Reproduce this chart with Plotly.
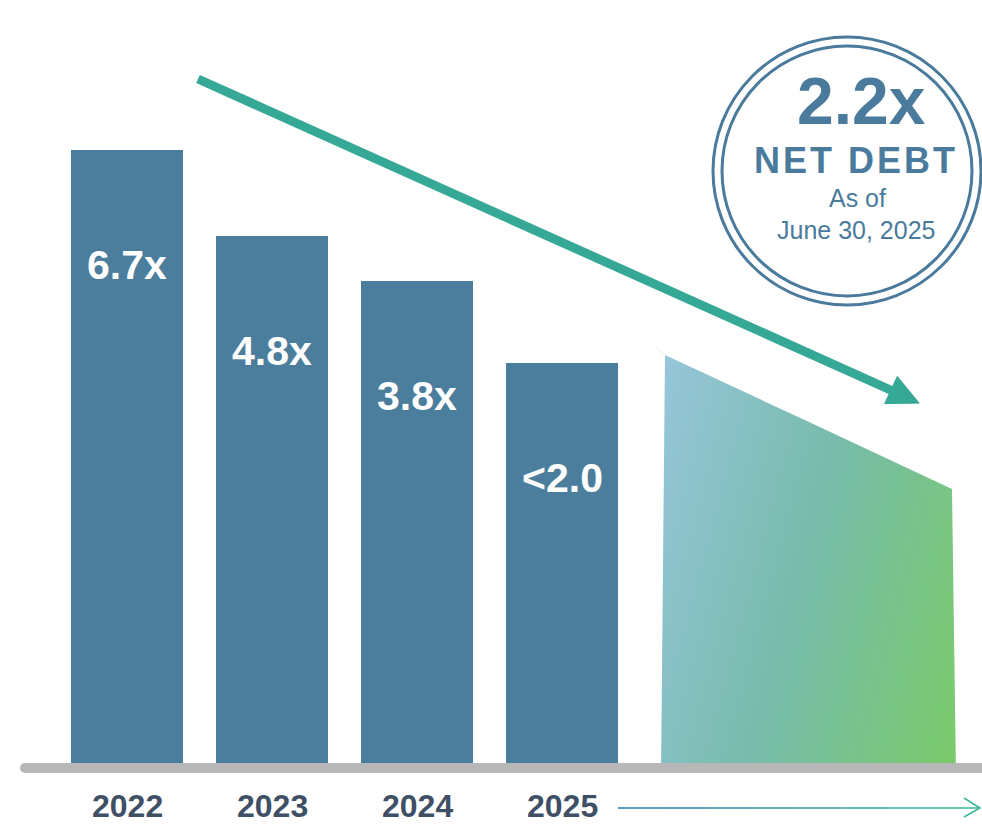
import numpy as np
import plotly.graph_objects as go

# ---- data -------------------------------------------------------------
years = ["2022", "2023", "2024", "2025"]
net_leverage = [6.7, 4.8, 3.8, 2.0]
bar_labels = ["6.7x", "4.8x", "3.8x", "<2.0"]

badge_value = "2.2x"
badge_title = "NET DEBT"
badge_note = ["As of", "June 30, 2025"]

# ---- styling ----------------------------------------------------------
W, H = 982, 827
FONT = "Liberation Sans, Arial, sans-serif"
BAR_COLOR = "#4b7d9c"
BADGE_COLOR = "#4a7b9d"
YEAR_COLOR = "#3f4f66"
TREND_COLOR = "#36a896"
AXIS_FLOOR = -6.85          # hidden floor of the value axis
Y_RANGE = [-8.27, 10.02]    # value axis spans the whole canvas

fig = go.Figure()

# Leverage bars
fig.add_trace(go.Bar(
    x=years, y=[v - AXIS_FLOOR for v in net_leverage], base=AXIS_FLOOR,
    width=0.772, marker=dict(color=BAR_COLOR, line=dict(width=0)),
    hoverinfo="skip", showlegend=False,
))

# Gradient panel (outlook), drawn on a pixel-space overlay
gx = np.linspace(658, 960, 62)
gy = np.linspace(348, 768, 85)
GX, GY = np.meshgrid(gx, gy)
ang = np.deg2rad(15)
proj = (GX - gx[0]) * np.cos(ang) + (GY - gy[0]) * np.sin(ang)
proj = proj / proj.max()
fig.add_trace(go.Heatmap(
    x=gx, y=gy, z=proj, xaxis="x2", yaxis="y2", zsmooth="best",
    colorscale=[[0, "#98c6dc"], [0.5, "#77bbaa"], [1, "#7bcc69"]],
    showscale=False, hoverinfo="skip",
))

shapes = []
# trim the gradient block to its sloped outline
mask = [
    "M 640,330 L 665,355 L 809,422 L 952,489 L 975,489 L 975,330 Z",
    "M 640,330 L 665,355 L 661,775 L 640,775 Z",
    "M 952,489 L 956,775 L 975,775 L 975,489 Z",
]
for p in mask:
    shapes.append(dict(type="path", path=p, xref="x2", yref="y2",
                       fillcolor="white", line=dict(width=0), layer="above"))

# baseline
shapes.append(dict(type="rect", xref="x2", yref="y2", x0=25, x1=990, y0=763, y1=773,
                   fillcolor="#b7b7b7", line=dict(width=0), layer="above"))
shapes.append(dict(type="circle", xref="x2", yref="y2", x0=20, x1=30, y0=763, y1=773,
                   fillcolor="#b7b7b7", line=dict(width=0), layer="above"))

# downward trend arrow
shapes.append(dict(type="line", xref="x2", yref="y2", x0=198, y0=79, x1=895, y1=392,
                   line=dict(color=TREND_COLOR, width=9), layer="above"))
shapes.append(dict(type="path", xref="x2", yref="y2",
                   path="M 897.3,376.4 L 919.1,403.1 L 884.7,403.6 Z",
                   fillcolor=TREND_COLOR, line=dict(color=TREND_COLOR, width=1), layer="above"))

# badge rings
shapes.append(dict(type="circle", xref="x2", yref="y2", x0=713, x1=981, y0=37, y1=305,
                   line=dict(color=BADGE_COLOR, width=3), layer="above"))
shapes.append(dict(type="circle", xref="x2", yref="y2", x0=722, x1=972, y0=46, y1=296,
                   line=dict(color=BADGE_COLOR, width=3), layer="above"))

# time arrow below the axis (blue to teal)
def mix(c1, c2, t):
    a = [int(c1[i:i + 2], 16) for i in (1, 3, 5)]
    b = [int(c2[i:i + 2], 16) for i in (1, 3, 5)]
    return "#" + "".join(f"{round(a[k] + (b[k] - a[k]) * t):02x}" for k in range(3))

segs = np.linspace(618, 979, 9)
for i in range(len(segs) - 1):
    shapes.append(dict(type="line", xref="x2", yref="y2", x0=segs[i], x1=segs[i + 1],
                       y0=808, y1=808, line=dict(color=mix("#1f7fa8", "#3ab59a", i / 7), width=1.5),
                       layer="above"))
shapes.append(dict(type="path", xref="x2", yref="y2", path="M 964,798 L 980,808 L 964,817",
                   line=dict(color="#3ab59a", width=1.5), layer="above"))

annotations = []
# values inside the bars (category index positions)
for i, (v, lab) in enumerate(zip(net_leverage, bar_labels)):
    annotations.append(dict(x=i, y=v, xref="x", yref="y", yshift=-115, text=lab,
                            showarrow=False,
                            font=dict(family=FONT, size=41, color="white", weight="bold")))
# year labels
for i, yr in enumerate(years):
    annotations.append(dict(x=i, y=806, xref="x", yref="y2", text=yr, showarrow=False,
                            font=dict(family=FONT, size=32, color=YEAR_COLOR, weight="bold")))
# badge text (hair spaces widen the title tracking)
spaced_title = "\u200a".join(badge_title)
annotations += [
    dict(x=861, y=101, xref="x2", yref="y2", text=badge_value, showarrow=False,
         font=dict(family=FONT, size=66, color=BADGE_COLOR, weight="bold")),
    dict(x=854, y=160, xref="x2", yref="y2", text=spaced_title, showarrow=False,
         font=dict(family=FONT, size=36, color=BADGE_COLOR, weight="bold")),
    dict(x=857, y=198, xref="x2", yref="y2", text=badge_note[0], showarrow=False,
         font=dict(family=FONT, size=25, color=BADGE_COLOR)),
    dict(x=856, y=230, xref="x2", yref="y2", text=badge_note[1], showarrow=False,
         font=dict(family=FONT, size=25, color=BADGE_COLOR)),
]

fig.update_layout(
    width=W, height=H, autosize=False,
    margin=dict(l=0, r=0, t=0, b=0, pad=0),
    paper_bgcolor="white", plot_bgcolor="white",
    showlegend=False,
    xaxis=dict(type="category", range=[-0.876, 5.896], visible=False, fixedrange=True),
    yaxis=dict(range=Y_RANGE, visible=False, fixedrange=True),
    xaxis2=dict(range=[0, W], overlaying="x", visible=False, fixedrange=True),
    yaxis2=dict(range=[H, 0], overlaying="y", visible=False, fixedrange=True),
    shapes=shapes, annotations=annotations,
    bargap=0,
)

fig.write_html("out.html")
